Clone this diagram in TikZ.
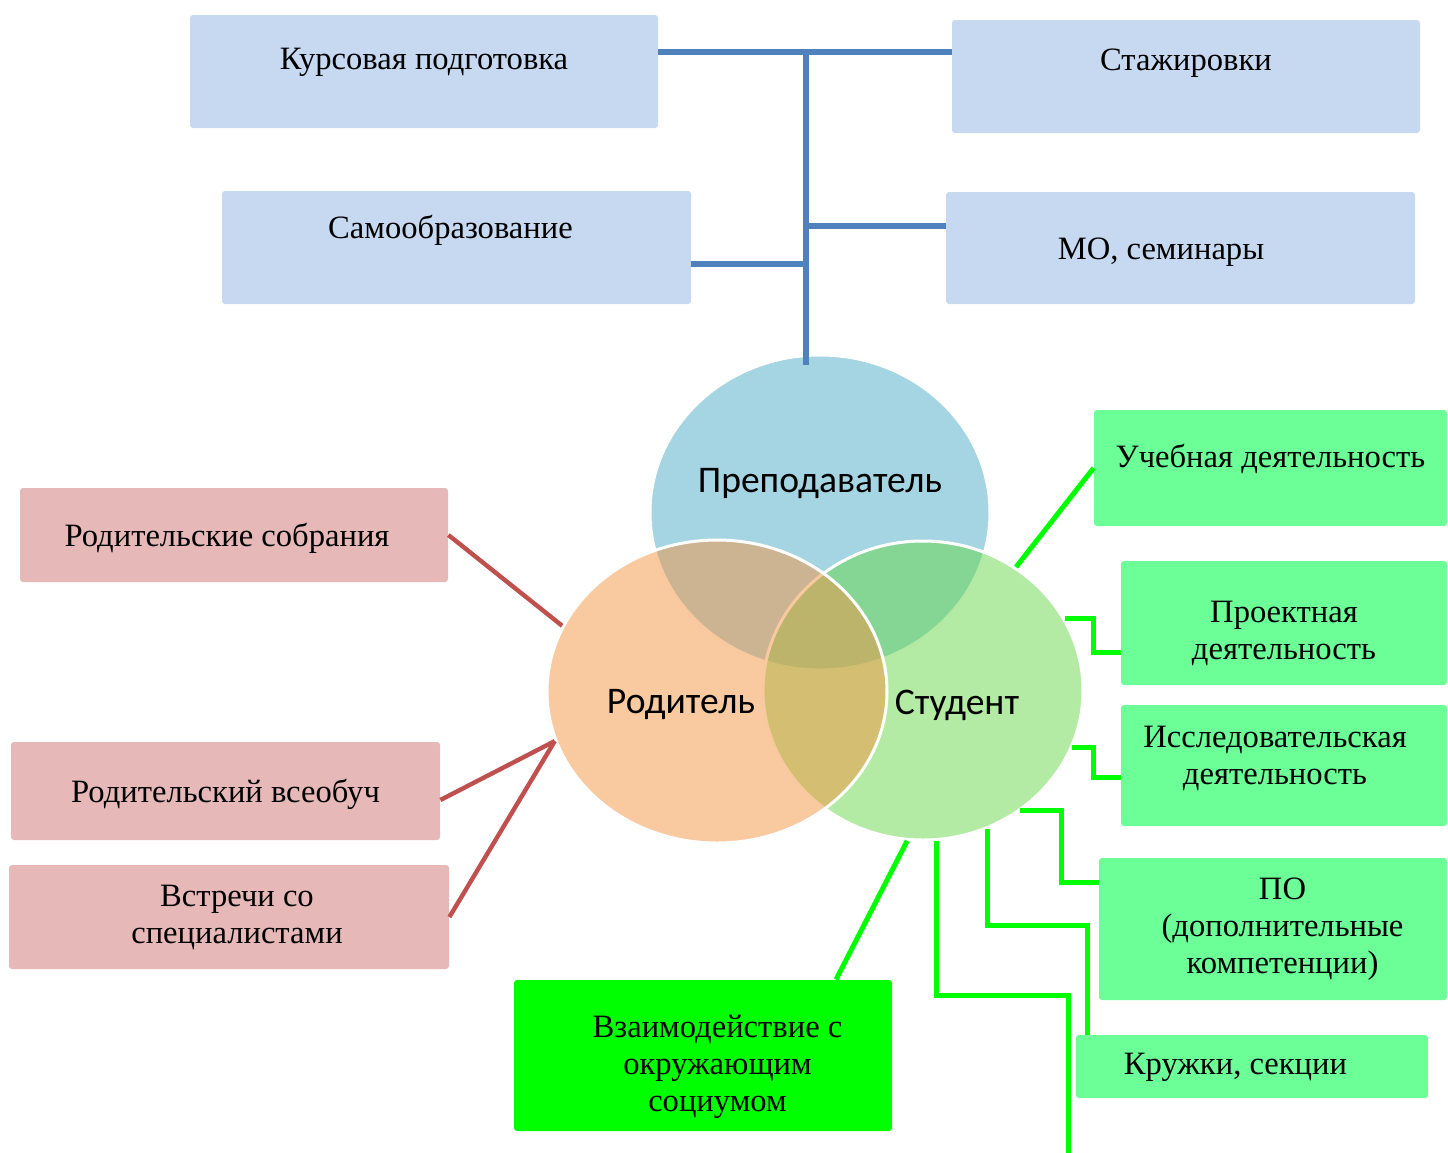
\documentclass[tikz,border=0pt]{standalone}
\usepackage{fontspec}
\setmainfont{Liberation Serif}
\newfontfamily\circfont{Carlito}
\usepackage{xcolor}
\usetikzlibrary{shapes.geometric, calc}
\definecolor{boxblue}{RGB}{198,217,241}
\definecolor{lineblue}{RGB}{79,129,189}
\definecolor{boxred}{RGB}{230,185,184}
\definecolor{linered}{RGB}{192,80,77}
\definecolor{boxgreen}{RGB}{108,255,152}
\definecolor{linegreen}{RGB}{0,255,0}
\definecolor{circblue}{RGB}{165,213,226}
\definecolor{circorange}{RGB}{243,147,65}
\definecolor{circgreen}{RGB}{103,215,73}
\tikzstyle{bline} = [line width=3pt, lineblue]
\tikzstyle{rline} = [line width=2.2pt, linered]
\tikzstyle{gline} = [line width=2.5pt, linegreen]
\tikzset{textbox/.style 2 args={text height=#1, text depth=#2}}
\newcommand{\hpad}[1]{\hbox to #1{}}
\newcommand{\padtop}[1]{\rule{0pt}{#1}}
\newcommand{\padbot}[1]{\rule[-#1]{0pt}{0pt}}

\begin{document}
\begin{tikzpicture}[x=0.5pt, y=-0.5pt]
\tikzstyle{boxbase} = [rectangle, rounded corners=1.5pt, inner sep=0pt, align=center, font=\fontsize{16.3}{18.5}\selectfont]
\tikzstyle{bluebox} = [boxbase, fill=boxblue]
\tikzstyle{redbox} = [boxbase, fill=boxred]
\tikzstyle{greenbox} = [boxbase, fill=boxgreen]
\tikzstyle{circ} = [ellipse, inner sep=0pt, draw=white, line width=1.5pt]
\tikzstyle{circlabel} = [font=\circfont\fontsize{18.8}{20}\selectfont]

\useasboundingbox (0,0) rectangle (1448,1153);

\node (kurs) [bluebox, minimum width=234pt, minimum height=56.5pt, textbox={11pt}{13pt}] at (424,71.5) {Курсовая подготовка};
\node (stazh) [bluebox, minimum width=234pt, minimum height=56.5pt, textbox={11pt}{17pt}] at (1186,76.5) {Стажировки};
\node (samo) [bluebox, minimum width=234.5pt, minimum height=56.5pt, textbox={11pt}{20pt}] at (456.5,247.5) {Самообразование\hpad{6pt}};
\node (mo) [bluebox, minimum width=234.5pt, minimum height=56pt, textbox={12pt}{0.5pt}] at (1180.5,248) {МО, семинары\hpad{19.5pt}};

\node (prep) [circ, fill=circblue, minimum width=170pt, minimum height=157.5pt] at (820,512.5) {};
\node (stud) [circ, fill=circgreen, fill opacity=0.5, minimum width=160pt, minimum height=149.5pt] at (923,690.5) {};
\node (rod) [circ, fill=circorange, fill opacity=0.5, minimum width=170pt, minimum height=151.5pt] at (717,691.5) {};
\node (preplabel) [circlabel] at (820,484) {Преподаватель};
\node (rodlabel) [circlabel] at (681,705) {Родитель};
\node (studlabel) [circlabel] at (957,705) {Студент};

\node (rodsob) [redbox, minimum width=214pt, minimum height=47pt, textbox={12pt}{0.5pt}] at (234,535) {Родительские собрания\hpad{7pt}};
\node (vseob) [redbox, minimum width=214.5pt, minimum height=49pt, textbox={12pt}{0.5pt}] at (225.5,791) {Родительский всеобуч};
\node (vstr) [redbox, minimum width=220pt, minimum height=52pt] at (229,917) {\hpad{8pt}Встречи со\\\hpad{8pt}специалистами};

\node (ucheb) [greenbox, minimum width=176.5pt, minimum height=58pt, textbox={11pt}{11.5pt}] at (1270.5,468) {Учебная деятельность};
\node (proekt) [greenbox, minimum width=163pt, minimum height=62pt] at (1284,623) {\padtop{21pt}Проектная\\деятельность};
\node (issl) [greenbox, minimum width=163pt, minimum height=60.5pt] at (1284,765.5) {Исследовательская\hpad{9pt}\\деятельность\hpad{9pt}\padbot{10.3pt}};
\node (po) [greenbox, minimum width=174pt, minimum height=71pt] at (1273,929) {\hpad{9.5pt}ПО\\\hpad{9.5pt}(дополнительные\\\hpad{9.5pt}компетенции)};
\node (kruzh) [greenbox, minimum width=176pt, minimum height=31.5pt, textbox={11pt}{3pt}] at (1252,1066.5) {Кружки, секции\hpad{16.5pt}};
\node (vzaim) [greenbox, fill=linegreen, minimum width=189pt, minimum height=75.5pt] at (703,1055.5) {\padtop{23pt}\hpad{14.5pt}Взаимодействие с\\\hpad{14.5pt}окружающим\\\hpad{14.5pt}социумом};

\coordinate (jtop) at (806,52);
\coordinate (jbot) at (806,365);
\coordinate (jsamo) at (806,264);
\coordinate (jmo) at (806,226);
\coordinate (p1) at (1093,652);
\coordinate (p2) at (1093,777);
\coordinate (p3) at (1061,882);
\coordinate (p4) at (1087,925);
\coordinate (p5) at (1068,995);
\coordinate (drop) at (1068,1153);

\draw [bline] (kurs.east |- jtop) -- (stazh.west |- jtop);
\draw [bline] (jtop) -- (jbot);
\draw [bline] (samo.east |- jsamo) -- (jsamo);
\draw [bline] (jmo) -- (mo.west |- jmo);

\draw [rline] (rodsob.east) -- (rod.157);
\draw [rline] ([yshift=-4.5pt]vseob.east) -- (rod.197);
\draw [rline] (vstr.east) -- (rod.197);

\draw [gline] (ucheb.west) -- (stud.53);
\draw [gline] (stud.27) -| (p1) -- (proekt.west |- p1);
\draw [gline] (stud.-21) -| (p2) -- (issl.west |- p2);
\draw [gline] (stud.-51) -| (p3) -- (po.west |- p3);
\draw [gline] (stud.-65) |- (p4) -- (p4 |- kruzh.north);
\draw [gline] (stud.-85) |- (p5) -- (drop);
\draw [gline] (stud.-96) -- ([xshift=66.5pt]vzaim.north);

\end{tikzpicture}
\end{document}
